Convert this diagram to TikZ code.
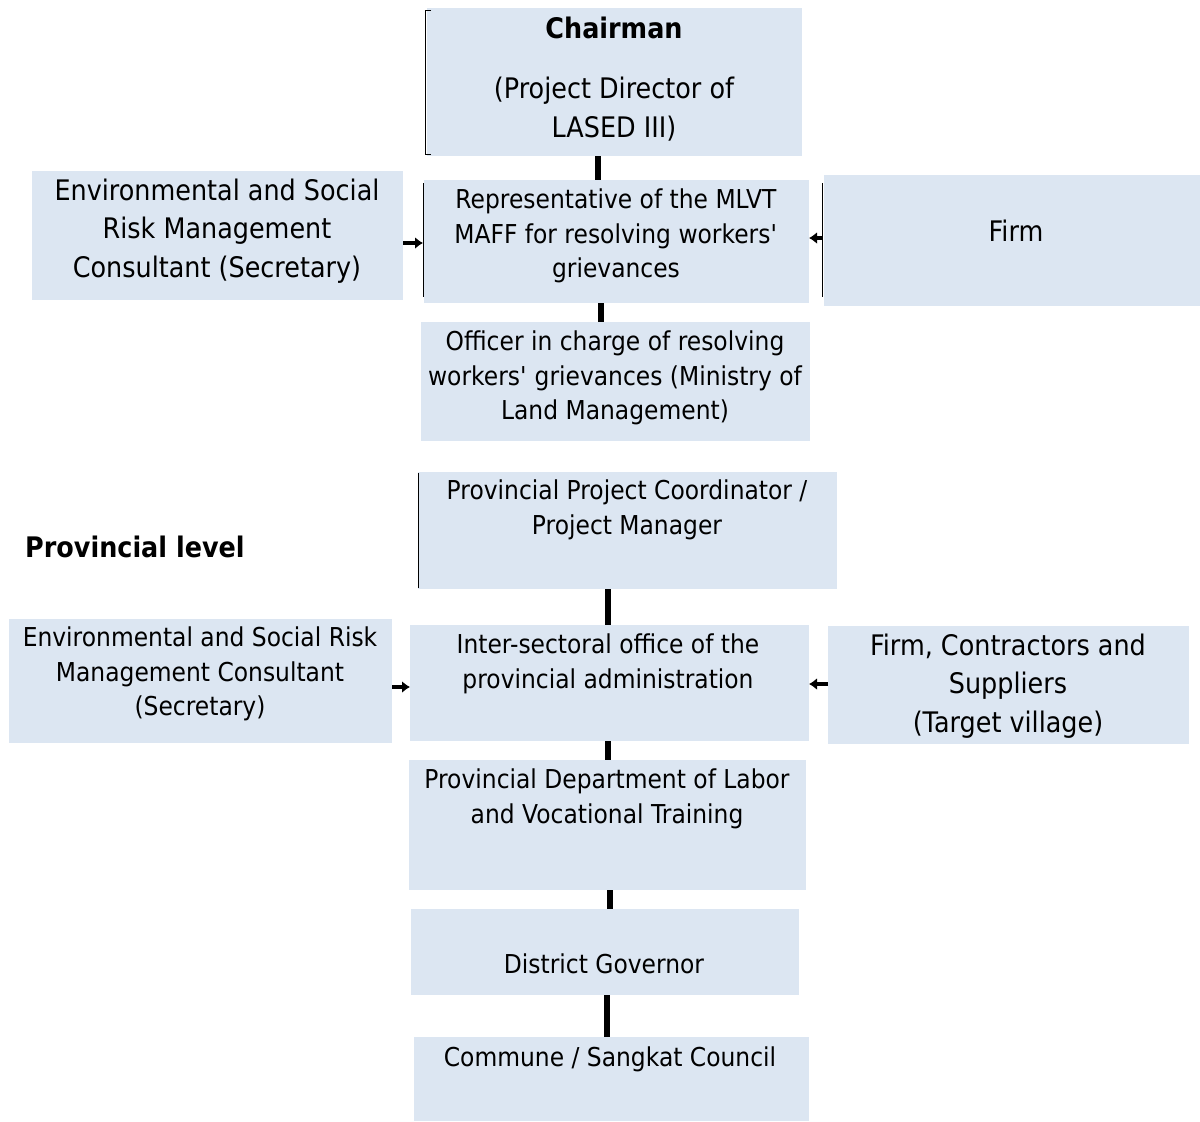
\documentclass[tikz,border=0pt]{standalone}
\usepackage{fontspec}
\setmainfont{DejaVu Sans}[FakeStretch=0.9]
\usetikzlibrary{arrows.meta}
\definecolor{boxblue}{RGB}{220,230,242}
\newcommand{\apos}{\textquotesingle}
\begin{document}
\begin{tikzpicture}[x=1pt,y=-1pt,
  box/.style={fill=boxblue,draw=none,inner sep=0pt,outer sep=0pt},
  small/.style={align=center,inner sep=0pt,font=\fontsize{26}{34.5}\selectfont},
  big/.style={align=center,inner sep=0pt,font=\fontsize{28.3}{38.5}\selectfont},
  link/.style={line width=6pt},
  arr/.style={line width=3.5pt,-{Latex[length=8pt,width=12pt]}},
  edge/.style={line width=1pt}]
\useasboundingbox (0,0) rectangle (1200,1122);
% boxes
\node[box,minimum width=375pt,minimum height=148pt] (chair) at (614.5,82) {};
\node[box,minimum width=371pt,minimum height=129pt] (envT) at (217.5,235.5) {};
\node[box,minimum width=385pt,minimum height=123pt] (rep) at (616.5,241.5) {};
\node[box,minimum width=376pt,minimum height=131pt] (firm) at (1012,240.5) {};
\node[box,minimum width=389pt,minimum height=119pt] (off) at (615.5,381.5) {};
\node[box,minimum width=419pt,minimum height=117pt] (ppc) at (627.5,530.5) {};
\node[box,minimum width=383pt,minimum height=124pt] (envP) at (200.5,681) {};
\node[box,minimum width=399pt,minimum height=116pt] (inter) at (609.5,683) {};
\node[box,minimum width=361pt,minimum height=118pt] (firmC) at (1008.5,685) {};
\node[box,minimum width=397pt,minimum height=130pt] (pdl) at (607.5,825) {};
\node[box,minimum width=388pt,minimum height=86pt] (dg) at (605,952) {};
\node[box,minimum width=395pt,minimum height=84pt] (comm) at (611.5,1079) {};
% black left edges
\draw[edge] ([xshift=4pt,yshift=-2pt]chair.north west) -- ++(-6,0) -- ([xshift=-2pt,yshift=2pt]chair.south west) -- ++(6,0);
\draw[edge] ([xshift=-1pt,yshift=-3pt]rep.north west) -- ([xshift=-1pt,yshift=6pt]rep.south west);
\draw[edge] ([xshift=-2pt,yshift=-8pt]firm.north west) -- ([xshift=-2pt,yshift=9pt]firm.south west);
\draw[edge] ([xshift=0pt,yshift=-1pt]ppc.north west) -- ([xshift=0pt,yshift=1pt]ppc.south west);
% texts
\node[big] (tchair) at (614,28) {\bfseries Chairman};
\node[big] (tpd) at (614,109) {(Project Director of\\LASED III)};
\node[big] (tenvT) at (217,231) {Environmental and Social\\Risk Management\\Consultant (Secretary)};
\node[small] (trep) at (616,236) {Representative of the MLVT\\MAFF for resolving workers\apos\\grievances};
\node[big] (tfirm) at (1016,231) {Firm};
\node[small] (toff) at (615,378) {Officer in charge of resolving\\workers\apos{} grievances (Ministry of\\Land Management)};
\node[small] (tppc) at (627,510) {Provincial Project Coordinator /\\Project Manager};
\node[big,anchor=west] (tlevel) at (25,547) {\bfseries Provincial level};
\node[small] (tenvP) at (200,674) {Environmental and Social Risk\\Management Consultant\\(Secretary)};
\node[small] (tinter) at (608,664) {Inter-sectoral office of the\\provincial administration};
\node[big] (tfirmC) at (1008,686) {Firm, Contractors and\\Suppliers\\(Target village)};
\node[small] (tpdl) at (607,799) {Provincial Department of Labor\\and Vocational Training};
\node[small] (tdg) at (604,964) {District Governor};
\node[small] (tcomm) at (610,1059) {Commune / Sangkat Council};
% vertical links
\draw[link] (chair.south -| 598,0) -- (rep.north -| 598,0);
\draw[link] (rep.south -| 601,0) -- (off.north -| 601,0);
\draw[link] (ppc.south -| 608,0) -- (inter.north -| 608,0);
\draw[link] (inter.south -| 608,0) -- (pdl.north -| 608,0);
\draw[link] (pdl.south -| 610,0) -- (dg.north -| 610,0);
\draw[link] (dg.south -| 607,0) -- (comm.north -| 607,0);
% arrows
\draw[arr] (envT.east |- 0,243) -- ([xshift=-1pt]rep.west |- 0,243);
\draw[arr] ([xshift=-2pt]firm.west |- 0,238) -- (rep.east |- 0,238);
\draw[arr] (envP.east |- 0,687) -- (inter.west |- 0,687);
\draw[arr] (firmC.west |- 0,684) -- (inter.east |- 0,684);
\end{tikzpicture}
\end{document}
